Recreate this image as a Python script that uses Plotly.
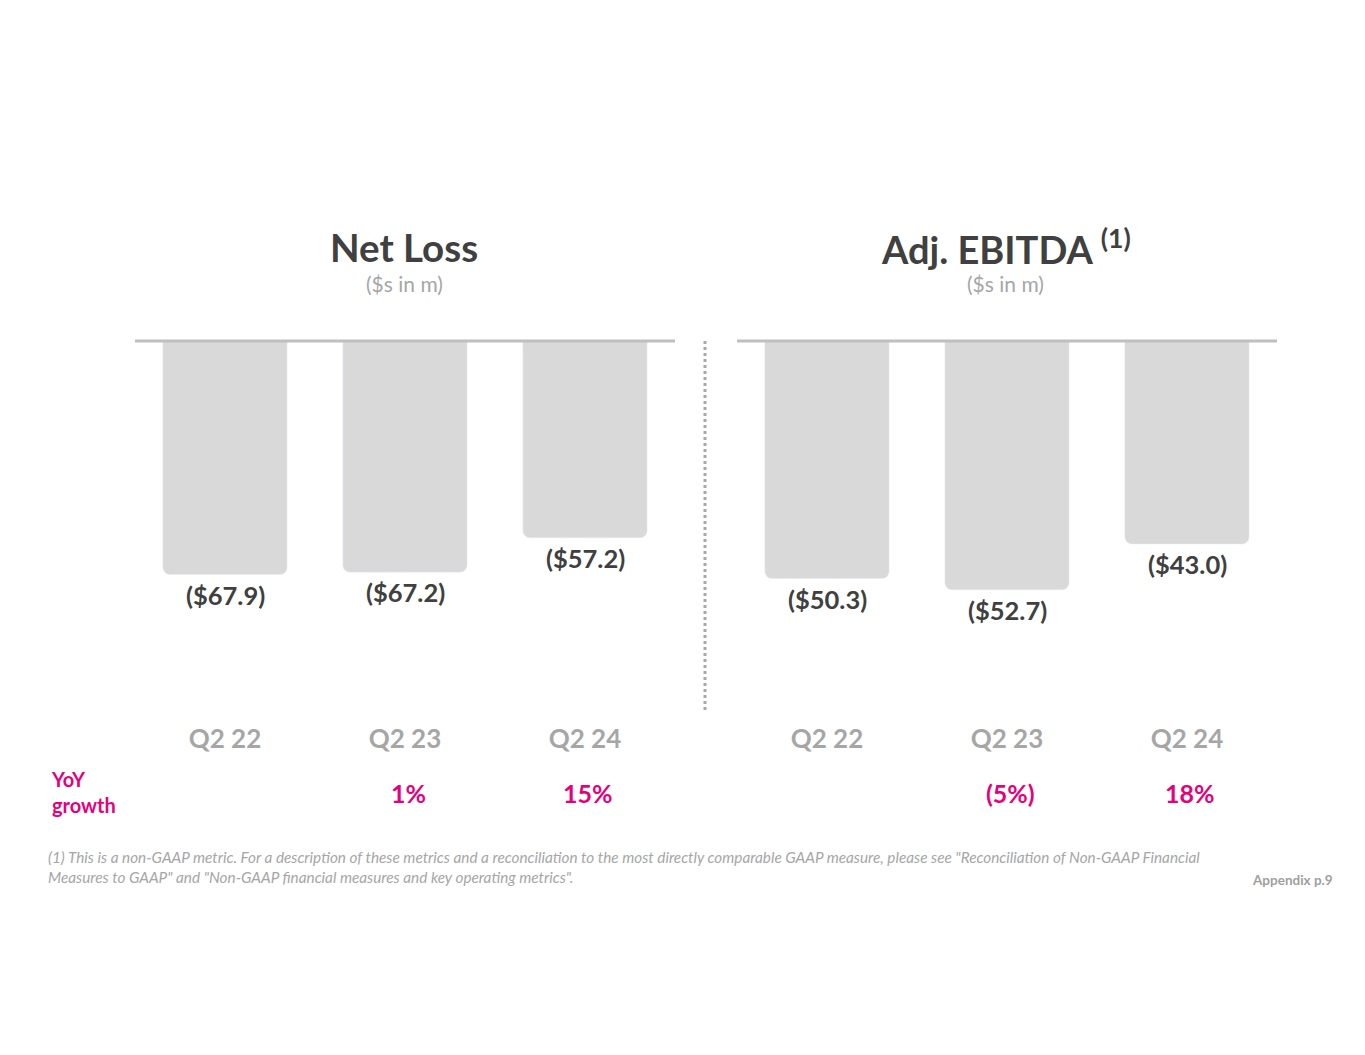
import plotly.graph_objects as go

categories = ["Q2 22", "Q2 23", "Q2 24"]
net_loss = [-67.9, -67.2, -57.2]
adj_ebitda = [-50.3, -52.7, -43.0]
net_loss_labels = ["($67.9)", "($67.2)", "($57.2)"]
ebitda_labels = ["($50.3)", "($52.7)", "($43.0)"]
yoy_net_loss = ["", "1%", "15%"]
yoy_ebitda = ["", "(5%)", "18%"]

W, H = 1365, 1055
OFF = 8  # page body margin
FONT = "Lato"
PINK = "#e6007e"
DARK = "#404040"
GRAY = "#a6a6a6"

def px(x):
    return (x - OFF) / W

def py(y):
    return 1 - (y - OFF) / H

fig = go.Figure()
fig.add_trace(go.Bar(x=categories, y=net_loss, marker_color="#d9d9d9", width=0.69,
                     xaxis="x", yaxis="y", hoverinfo="skip"))
fig.add_trace(go.Bar(x=categories, y=adj_ebitda, marker_color="#d9d9d9", width=0.69,
                     xaxis="x2", yaxis="y2", hoverinfo="skip"))

ytop, ybot = 341, 715
common_x = dict(showgrid=False, zeroline=False, showline=False, ticks="",
                tickfont=dict(family=FONT, size=26, color="#a6a6a6", weight="bold"),
                ticklabelstandoff=6, fixedrange=True)
common_y = dict(showgrid=False, zeroline=False, showline=False, showticklabels=False,
                domain=[py(ybot), py(ytop)], fixedrange=True)

fig.update_layout(
    width=W, height=H, margin=dict(l=0, r=0, t=0, b=0),
    paper_bgcolor="white", plot_bgcolor="white", showlegend=False,
    barcornerradius=7,
    xaxis=dict(domain=[px(135), px(675)], anchor="y", **common_x),
    xaxis2=dict(domain=[px(737), px(1277)], anchor="y2", **common_x),
    yaxis=dict(range=[-108.7, 0], anchor="x", **common_y),
    yaxis2=dict(range=[-79.2, 0], anchor="x2", **common_y),
)

ann = []
for xa, ya, vals, labs in [("x", "y", net_loss, net_loss_labels), ("x2", "y2", adj_ebitda, ebitda_labels)]:
    for c, v, l in zip(categories, vals, labs):
        ann.append(dict(x=c, y=v, xref=xa, yref=ya, text=l, showarrow=False,
                        xanchor="center", yanchor="top", yshift=-3,
                        font=dict(family=FONT, size=25.5, color=DARK, weight="bold")))

for xa, vals in [("x", yoy_net_loss), ("x2", yoy_ebitda)]:
    for c, t in zip(categories, vals):
        if t:
            ann.append(dict(x=c, y=py(793), xref=xa, yref="paper", text=t, showarrow=False,
                            xanchor="center", yanchor="middle", xshift=3,
                            font=dict(family=FONT, size=25, color=PINK, weight="bold")))

ann += [
    dict(x=px(404), y=py(247), text="<b>Net Loss</b>",
         font=dict(family=FONT, size=38.5, color=DARK)),
    dict(x=px(404), y=py(283), text="($s in m)",
         font=dict(family=FONT, size=21, color=GRAY)),
    dict(x=px(1006), y=py(247), text="<b>Adj. EBITDA <sup>(1)</sup></b>",
         font=dict(family=FONT, size=38, color=DARK)),
    dict(x=px(1006), y=py(283), text="($s in m)",
         font=dict(family=FONT, size=21, color=GRAY)),
    dict(x=px(49), y=py(792), xanchor="left", align="left",
         text="<b>YoY<br>growth</b>",
         font=dict(family=FONT, size=20, color=PINK)),
    dict(x=px(46), y=py(867), xanchor="left", align="left",
         text="<i>(1) This is a non-GAAP metric. For a description of these metrics and a reconciliation to the most directly comparable GAAP measure, please see \"Reconciliation of Non-GAAP Financial<br>Measures to GAAP\" and \"Non-GAAP financial measures and key operating metrics\".</i>",
         font=dict(family=FONT, size=15.3, color="#a6a6a6")),
    dict(x=px(1335), y=py(880), xanchor="right",
         text="<b>Appendix p.9</b>",
         font=dict(family=FONT, size=13.5, color="#a0a0a0")),
]
for a in ann[-7:]:
    a.setdefault("xanchor", "center")
    a.update(xref="paper", yref="paper", showarrow=False, yanchor="middle")
fig.update_layout(annotations=ann)

fig.add_shape(type="line", xref="x domain", yref="paper", x0=0, x1=1, y0=py(341), y1=py(341),
              line=dict(color="#bfbfbf", width=3))
fig.add_shape(type="line", xref="x2 domain", yref="paper", x0=0, x1=1, y0=py(341), y1=py(341),
              line=dict(color="#bfbfbf", width=3))
fig.add_shape(type="line", xref="paper", yref="paper", x0=px(705), x1=px(705), y0=py(341), y1=py(713),
              line=dict(color="#a8a8a8", width=3, dash="dot"))

fig.write_html("out.html")
